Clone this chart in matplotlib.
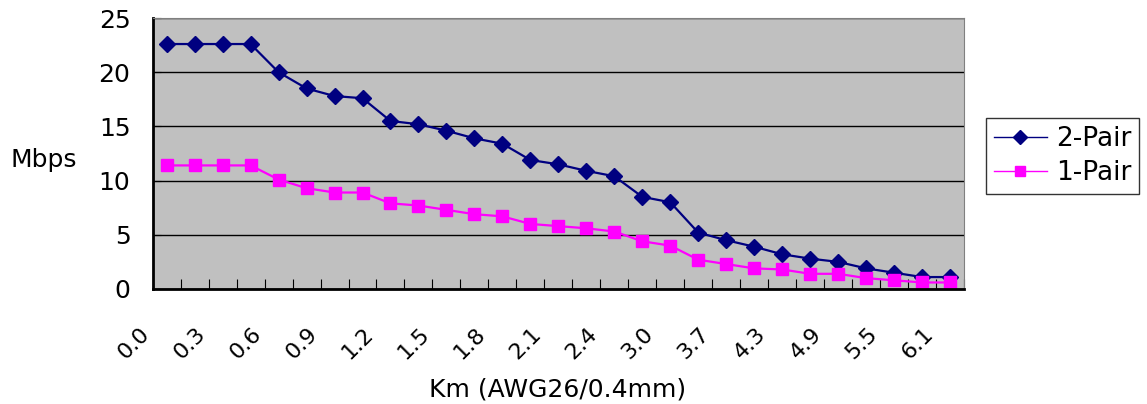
import numpy as np
import matplotlib
matplotlib.use("Agg")
import matplotlib.pyplot as plt
from matplotlib.lines import Line2D
from matplotlib.transforms import ScaledTranslation

# distance labels (shown on every other category)
km_labels = ["0.0", "0.3", "0.6", "0.9", "1.2", "1.5", "1.8", "2.1",
             "2.4", "3.0", "3.7", "4.3", "4.9", "5.5", "6.1"]

two_pair = [22.6, 22.6, 22.6, 22.6, 20.0, 18.5, 17.8, 17.6, 15.5, 15.2,
            14.6, 13.9, 13.4, 11.9, 11.5, 10.9, 10.4, 8.5, 8.0, 5.2,
            4.5, 3.9, 3.2, 2.8, 2.5, 1.9, 1.5, 1.1, 1.1]
one_pair = [11.4, 11.4, 11.4, 11.4, 10.1, 9.3, 8.9, 8.9, 7.9, 7.7,
            7.3, 6.9, 6.7, 6.0, 5.8, 5.6, 5.3, 4.4, 4.0, 2.7,
            2.3, 1.9, 1.8, 1.4, 1.4, 1.0, 0.8, 0.6, 0.6]

navy = '#000080'
magenta = '#FF00FF'

plt.rcParams['font.family'] = ['DejaVu Sans']

fig = plt.figure(figsize=(11.47, 4.04), dpi=100)
ax = fig.add_axes([0.1331, 0.2847, 0.7074, 0.6707])
ax.set_facecolor('#C0C0C0')

x = np.arange(len(two_pair))
ax.plot(x, two_pair, color=navy, marker='D', markersize=8, lw=1.6)
ax.plot(x, one_pair, color=magenta, marker='s', markersize=8, lw=1.6)

ax.set_xlim(-0.5, len(two_pair) - 0.5)
ax.set_ylim(0, 25)
ax.set_yticks(np.arange(0, 26, 5))
ax.yaxis.grid(True, color='black', lw=1)
ax.set_axisbelow(True)

# category boundaries as inward ticks, labels on every other category
ax.set_xticks(np.arange(-0.5, len(two_pair), 1))
ax.set_xticklabels([])
ax.tick_params(axis='x', direction='in', length=7, color='black')
ax.tick_params(axis='y', direction='in', length=6, labelsize=18, pad=16)

lab_trans = ax.get_xaxis_transform() + ScaledTranslation(-0.27, -0.35, fig.dpi_scale_trans)
for i, lab in zip(x[::2], km_labels):
    ax.text(i, 0, lab, transform=lab_trans, rotation=45, ha='right', va='top',
            rotation_mode='anchor', fontsize=16)

for s in ['top', 'right']:
    ax.spines[s].set_color('#808080')
for s in ['left', 'bottom']:
    ax.spines[s].set_color('black')
    ax.spines[s].set_linewidth(2)

fig.text(558 / 1147, 1 - 389 / 404, "Km (AWG26/0.4mm)", fontsize=18,
         ha='center', va='center')
fig.text(0.009, 0.604, "Mbps", fontsize=18, ha='left', va='center')

handles = [Line2D([], [], color=navy, marker='D', markersize=7, lw=1),
           Line2D([], [], color=magenta, marker='s', markersize=7, lw=1)]
leg = fig.legend(handles, ['2-Pair', '1-Pair'], loc='upper left',
                 bbox_to_anchor=(986 / 1147, 1 - 118 / 404), borderaxespad=0,
                 fontsize=19, frameon=True, fancybox=False, edgecolor='black',
                 handlelength=2.0, handletextpad=0.35, borderpad=0.3,
                 labelspacing=0.3)
leg.get_frame().set_linewidth(1)

fig.savefig("out.png", dpi=100)
